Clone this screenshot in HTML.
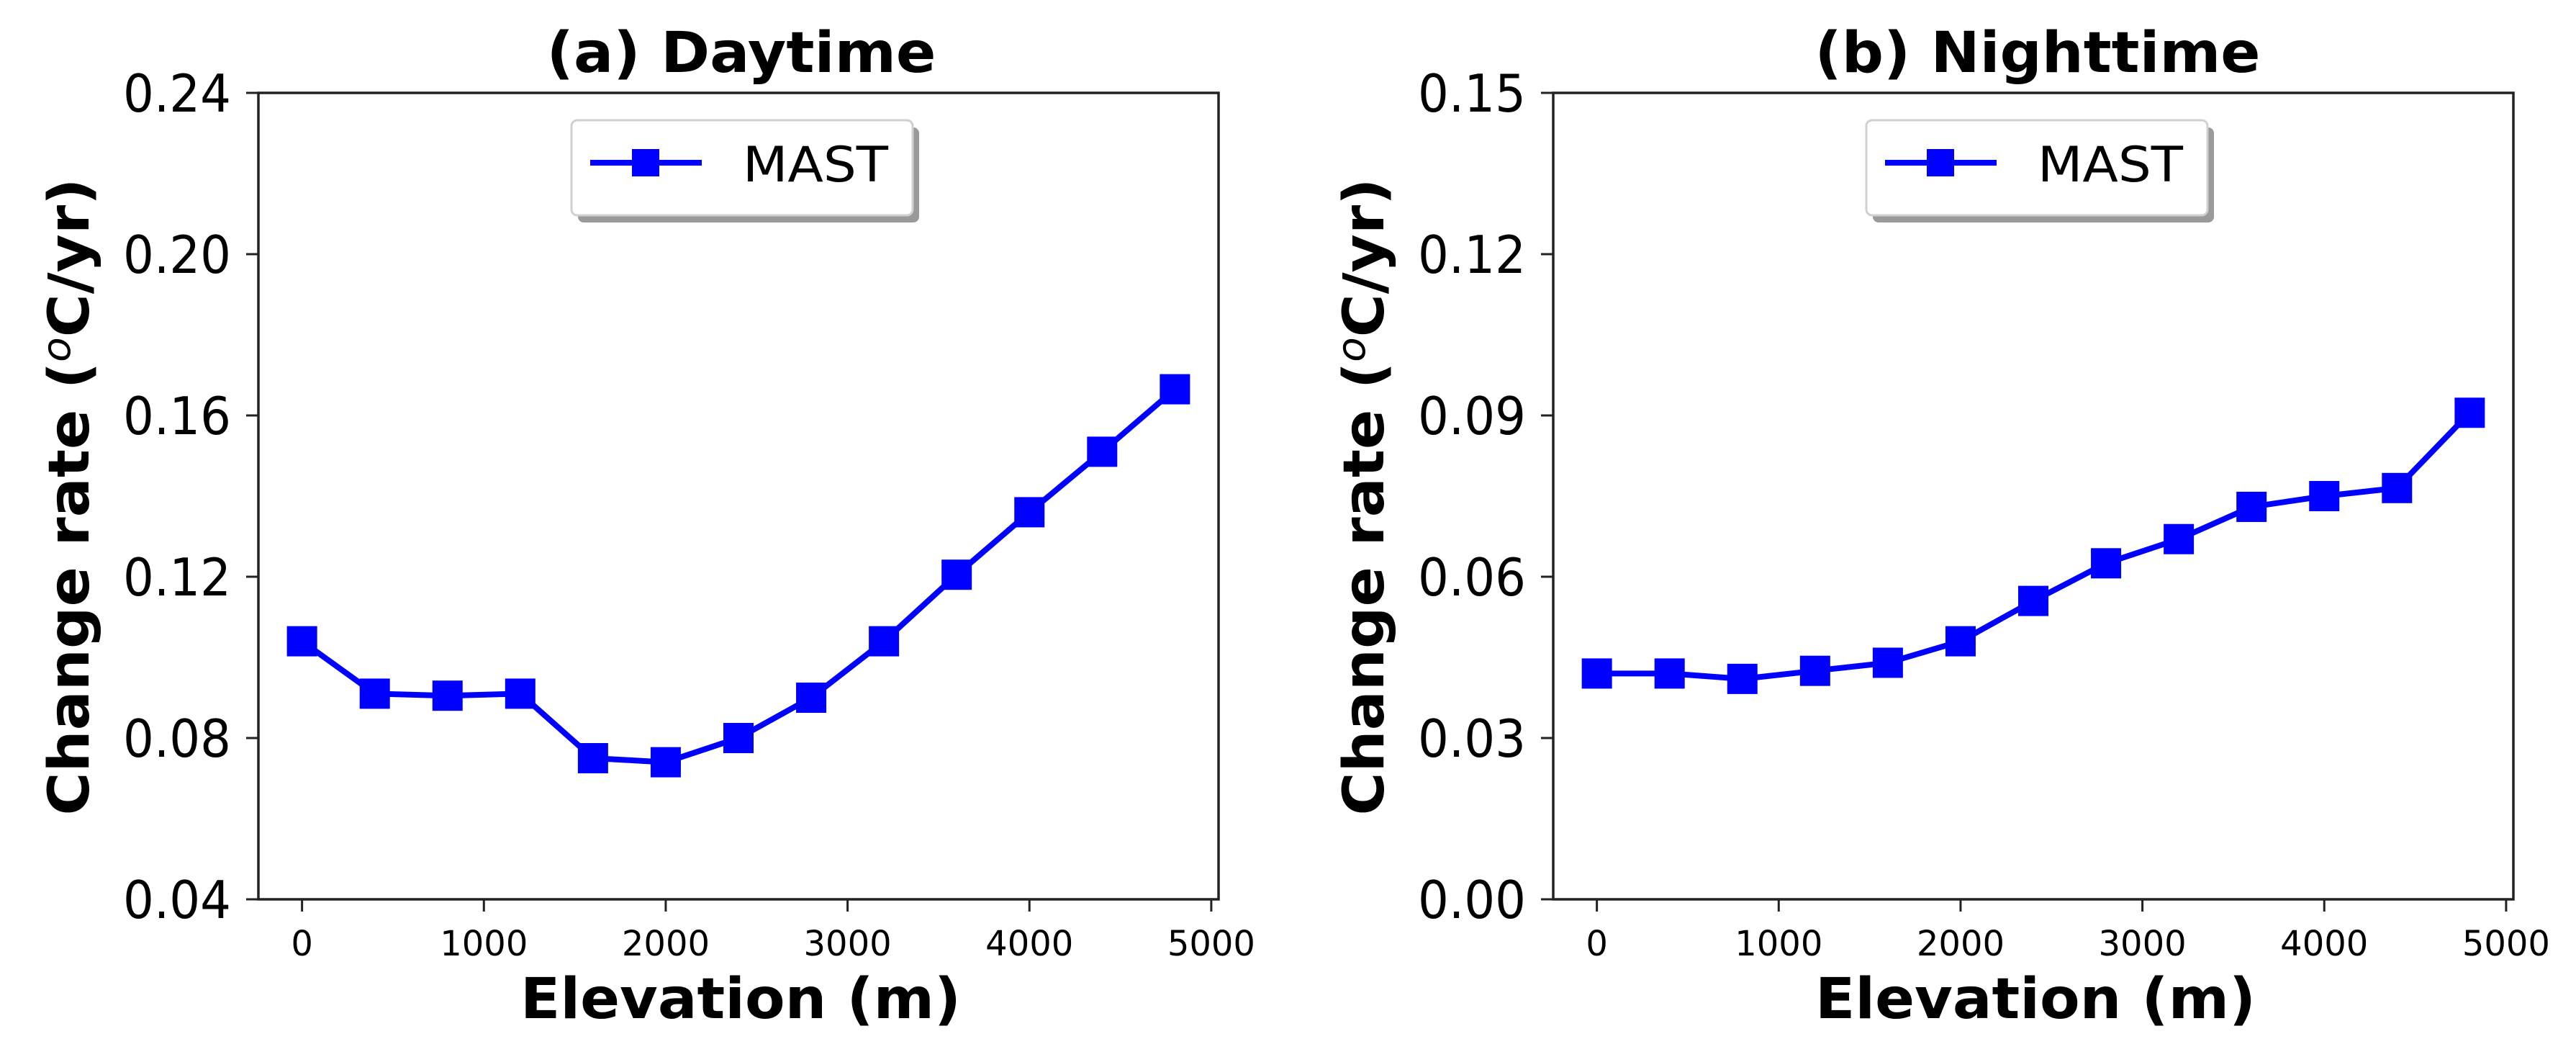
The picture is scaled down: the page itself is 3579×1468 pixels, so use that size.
<!DOCTYPE html>
<html><head><meta charset="utf-8"><style>
html,body{margin:0;padding:0;background:#fff;}
svg{display:block;}
text{font-family:"DejaVu Sans","Liberation Sans",sans-serif;fill:#000;}
</style></head><body>
<svg id="chart" width="3579" height="1468" viewBox="0 0 3579 1468" xmlns="http://www.w3.org/2000/svg"></svg>
<script>
const elevations = [0,400,800,1200,1600,2000,2400,2800,3200,3600,4000,4400,4800];
const dayValues = [0.104,0.091,0.0905,0.091,0.075,0.074,0.080,0.090,0.104,0.1205,0.136,0.151,0.1665];
const nightValues = [0.042,0.042,0.041,0.0425,0.044,0.048,0.0555,0.0625,0.067,0.073,0.075,0.0765,0.0905];
const xTicks = [0,1000,2000,3000,4000,5000];
const dayYTicks = [0.04,0.08,0.12,0.16,0.20,0.24];
const nightYTicks = [0.00,0.03,0.06,0.09,0.12,0.15];
const titles = ["(a) Daytime","(b) Nighttime"];

const NS="http://www.w3.org/2000/svg";
const svg=document.getElementById('chart');
function mk(tag,attrs,parent){const e=document.createElementNS(NS,tag);for(const k in attrs)e.setAttribute(k,attrs[k]);(parent||svg).appendChild(e);return e;}

function panel(idx,left,values,yTicks,yMin,yMax,title,slug,titleLen,titleDx){
  const top=129,bottom=1249,w=1334,right=left+w;
  const xMin=-240,xMax=5040;
  const sx=v=>left+(v-xMin)/(xMax-xMin)*w;
  const sy=v=>bottom-(v-yMin)/(yMax-yMin)*(bottom-top);
  const g=mk('g',{});
  
  
  const pts=elevations.map((e,i)=>sx(e)+','+sy(values[i])).join(' ');
  const line=mk('polyline',{points:pts,fill:'none',stroke:'#0000ff','stroke-width':8,'stroke-linejoin':'round'},g);
  
  
  elevations.forEach((e,i)=>{
    const r=mk('rect',{x:sx(e)-21,y:sy(values[i])-21,width:42,height:42,fill:'#0000ff'},g);
    
    
  });
  const fr=mk('rect',{x:left,y:top,width:w,height:bottom-top,fill:'none',stroke:'#222','stroke-width':3.5},g);
  
  
  xTicks.forEach(t=>{
    const x=sx(t);
    const tk=mk('line',{x1:x,y1:bottom,x2:x,y2:bottom+17,stroke:'#222','stroke-width':3},g);
    
    
    const tl=mk('text',{x:x,y:1327,'text-anchor':'middle','font-size':48},g);
    tl.textContent=t;
    
    
  });
  yTicks.forEach(t=>{
    const y=sy(t);
    const tk=mk('line',{x1:left-17,y1:y,x2:left,y2:y,stroke:'#222','stroke-width':3},g);
    
    
    const tl=mk('text',{x:left-38,y:y+26,'text-anchor':'end','font-size':72,textLength:150,lengthAdjust:'spacingAndGlyphs'},g);
    tl.textContent=t.toFixed(2);
    
    
  });
  const cx=left+w/2;
  const tt=mk('text',{x:cx+titleDx,y:100,'text-anchor':'middle','font-size':78,'font-weight':'bold',textLength:titleLen,lengthAdjust:'spacingAndGlyphs'},g);
  tt.textContent=title;
  
  
  const xl=mk('text',{x:cx+3,y:1414,'text-anchor':'middle','font-size':78,'font-weight':'bold',textLength:612,lengthAdjust:'spacingAndGlyphs'},g);
  xl.textContent='Elevation (m)';
  
  
  const ylx=left-236;
  const yl=mk('text',{x:0,y:0,'text-anchor':'middle','font-size':78,'font-weight':'bold',textLength:885,lengthAdjust:'spacingAndGlyphs',transform:'translate('+ylx+',690) rotate(-90)'},g);
  yl.innerHTML='Change rate (<tspan font-style="italic" font-weight="normal" dy="-26" font-size="54">o</tspan><tspan dy="26">C/yr)</tspan>';
  
  
  const lg=mk('g',{},g);
  
  
  const lx=left+435, ly=167;
  mk('rect',{x:lx+9,y:ly+10,width:474,height:132,rx:8,fill:'#9a9a9a'},lg);
  mk('rect',{x:lx,y:ly,width:474,height:132,rx:8,fill:'#fff',stroke:'#d0d0d0','stroke-width':3},lg);
  mk('line',{x1:lx+26,y1:ly+59,x2:lx+181,y2:ly+59,stroke:'#0000ff','stroke-width':8},lg);
  mk('rect',{x:lx+84,y:ly+40,width:38,height:38,fill:'#0000ff'},lg);
  const lt=mk('text',{x:lx+238,y:ly+85,'font-size':68,textLength:202,lengthAdjust:'spacingAndGlyphs'},lg);
  lt.textContent='MAST';
  
  
}
panel(0,359,dayValues,dayYTicks,0.04,0.24,titles[0],'daytime',541,4);
panel(1,2158,nightValues,nightYTicks,0.0,0.15,titles[1],'nighttime',619,6);
</script>
</body></html>
